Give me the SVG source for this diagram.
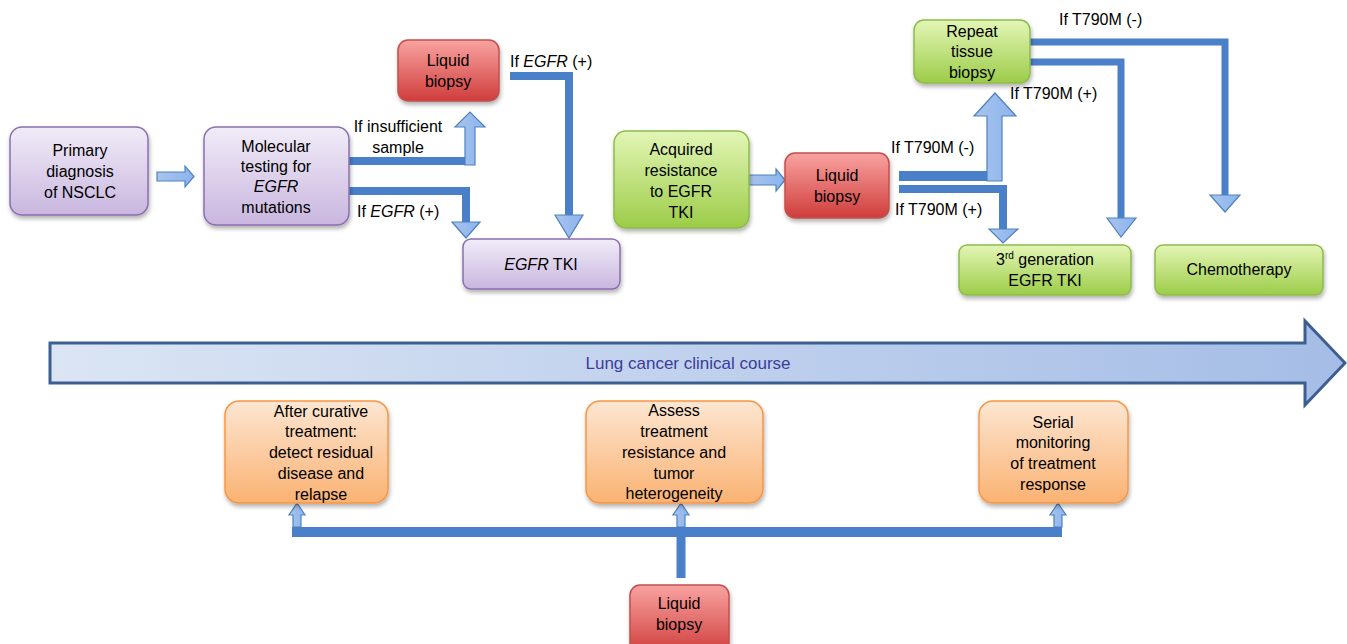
<svg xmlns="http://www.w3.org/2000/svg" width="1347" height="644" viewBox="0 0 1347 644">
<defs>
<linearGradient id="gPurple" x1="0" y1="0" x2="0" y2="1"><stop offset="0" stop-color="#f1ecf8"/><stop offset="1" stop-color="#c9b6df"/></linearGradient>
<linearGradient id="gRed" x1="0" y1="0" x2="0" y2="1"><stop offset="0" stop-color="#f9a3a1"/><stop offset="1" stop-color="#cf3d3b"/></linearGradient>
<linearGradient id="gGreen" x1="0" y1="0" x2="0" y2="1"><stop offset="0" stop-color="#e3f6b6"/><stop offset="1" stop-color="#9ccc48"/></linearGradient>
<linearGradient id="gOrange" x1="0" y1="0" x2="0" y2="1"><stop offset="0" stop-color="#fde6d2"/><stop offset="1" stop-color="#fab272"/></linearGradient>
<linearGradient id="gArrow" x1="0" y1="0" x2="1" y2="0"><stop offset="0" stop-color="#a9c4eb"/><stop offset="1" stop-color="#8ab4f0"/></linearGradient>
<linearGradient id="gBig" x1="0" y1="0" x2="1" y2="0"><stop offset="0" stop-color="#dbe5f4"/><stop offset="1" stop-color="#a5bde6"/></linearGradient>
<filter id="sh" x="-10%" y="-10%" width="130%" height="140%"><feDropShadow dx="1" dy="3" stdDeviation="2" flood-color="#000" flood-opacity="0.3"/></filter>
</defs>
<style>
text{font-family:"Liberation Sans",Arial,sans-serif;font-size:16px;fill:#000;}
.c{text-anchor:middle;}
.i{font-style:italic;}
.purple{fill:url(#gPurple);stroke:#8a6fb0;stroke-width:1.5;filter:url(#sh);}
.red{fill:url(#gRed);stroke:#c0504d;stroke-width:1.5;filter:url(#sh);}
.green{fill:url(#gGreen);stroke:#8fba4c;stroke-width:1.5;filter:url(#sh);}
.orange{fill:url(#gOrange);stroke:#f79646;stroke-width:1.5;filter:url(#sh);}
.line{fill:none;stroke:#4a7fc9;stroke-linejoin:miter;}
.head{fill:url(#gArrow);stroke:#4f81bd;stroke-width:1.2;stroke-linejoin:miter;}
</style>
<rect width="1347" height="644" fill="#fff"/>

<g id="connectors">
<polygon class="head" points="157,172 185,172 185,166 194,176.5 185,187 185,181 157,181"/>
<path class="line" stroke-width="8" d="M349,161 H474"/>
<polygon class="head" points="465,165 465,127 455,127 470,112 485,127 475,127 475,165"/>
<path class="line" stroke-width="8" d="M349,191 H466 V222"/>
<polygon class="head" points="452,222 480,222 466,238"/>
<path class="line" stroke-width="8" d="M510,76 H569 V215"/>
<polygon class="head" points="555,215 583,215 569,238"/>
<polygon class="head" points="749,175 776,175 776,169 785,180 776,191 776,185 749,185"/>
<path class="line" stroke-width="10" d="M899,176 H1000"/>
<polygon class="head" points="987,181 987,116 974,116 995,93 1016,116 1002,116 1002,181"/>
<path class="line" stroke-width="8" d="M899,189 H1003 V229"/>
<polygon class="head" points="989,229 1018,229 1003,243"/>
<path class="line" stroke-width="7" d="M1030,62 H1121 V218"/>
<polygon class="head" points="1107,218 1136,218 1121,237"/>
<path class="line" stroke-width="7" d="M1030,42 H1225 V195"/>
<polygon class="head" points="1210,195 1240,195 1225,212"/>
<path class="line" stroke-width="10" d="M292,532 H1062"/>
<path class="line" stroke-width="9" d="M681,578 V532"/>
<polygon class="head" points="293,527 293,515 289,515 297,503 305,515 301,515 301,527"/>
<polygon class="head" points="677,527 677,515 673,515 681,503 689,515 685,515 685,527"/>
<polygon class="head" points="1054,527 1054,515 1050,515 1058,503 1066,515 1062,515 1062,527"/>
</g>

<g id="labels">
<text x="510" y="67">If <tspan class="i">EGFR</tspan> (+)</text>
<text class="c" x="398" y="132">If insufficient</text>
<text class="c" x="398" y="153">sample</text>
<text x="357" y="217">If <tspan class="i">EGFR</tspan> (+)</text>
<text x="891" y="153">If T790M (-)</text>
<text x="895" y="215">If T790M (+)</text>
<text x="1010" y="99">If T790M (+)</text>
<text x="1059" y="25">If T790M (-)</text>
</g>

<g id="timeline">
<polygon points="50,343 1305,343 1305,321 1345,363 1305,405 1305,383 50,383" fill="url(#gBig)" stroke="#3c5f8f" stroke-width="3"/>
<text class="c" x="688" y="369" style="font-size:17px;fill:#3c3c9c">Lung cancer clinical course</text>
</g>

<g id="n-primary">
<rect class="purple" x="10" y="127" width="138" height="88" rx="12"/>
<text class="c" x="80" y="156">Primary</text>
<text class="c" x="80" y="177">diagnosis</text>
<text class="c" x="80" y="198">of NSCLC</text>
</g>
<g id="n-molecular">
<rect class="purple" x="204" y="127" width="145" height="98" rx="12"/>
<text class="c" x="276" y="152">Molecular</text>
<text class="c" x="276" y="172">testing for</text>
<text class="c i" x="276" y="192">EGFR</text>
<text class="c" x="276" y="213">mutations</text>
</g>
<g id="n-liquid1">
<rect class="red" x="398" y="40" width="101" height="61" rx="10"/>
<text class="c" x="448" y="66">Liquid</text>
<text class="c" x="448" y="87">biopsy</text>
</g>
<g id="n-egfrtki">
<rect class="purple" x="463" y="239" width="157" height="50" rx="8"/>
<text class="c" x="541" y="270"><tspan class="i">EGFR</tspan> TKI</text>
</g>
<g id="n-acquired">
<rect class="green" x="614" y="131" width="135" height="97" rx="12"/>
<text class="c" x="681" y="155">Acquired</text>
<text class="c" x="681" y="176">resistance</text>
<text class="c" x="681" y="197">to EGFR</text>
<text class="c" x="681" y="218">TKI</text>
</g>
<g id="n-liquid2">
<rect class="red" x="785" y="153" width="104" height="65" rx="10"/>
<text class="c" x="837" y="181">Liquid</text>
<text class="c" x="837" y="202">biopsy</text>
</g>
<g id="n-repeat">
<rect class="green" x="914" y="20" width="116" height="63" rx="10"/>
<text class="c" x="972" y="37">Repeat</text>
<text class="c" x="972" y="57">tissue</text>
<text class="c" x="972" y="78">biopsy</text>
</g>
<g id="n-3rdgen">
<rect class="green" x="959" y="245" width="172" height="50" rx="8"/>
<text class="c" x="1045" y="265">3<tspan dy="-6" style="font-size:10px">rd</tspan><tspan dy="6"> generation</tspan></text>
<text class="c" x="1045" y="286">EGFR TKI</text>
</g>
<g id="n-chemo">
<rect class="green" x="1155" y="245" width="168" height="50" rx="8"/>
<text class="c" x="1239" y="275">Chemotherapy</text>
</g>
<g id="n-after">
<rect class="orange" x="225" y="401" width="163" height="102" rx="14"/>
<text class="c" x="321" y="417">After curative</text>
<text class="c" x="321" y="437">treatment:</text>
<text class="c" x="321" y="458">detect residual</text>
<text class="c" x="321" y="479">disease and</text>
<text class="c" x="321" y="500">relapse</text>
</g>
<g id="n-assess">
<rect class="orange" x="586" y="401" width="177" height="102" rx="14"/>
<text class="c" x="674" y="416">Assess</text>
<text class="c" x="674" y="437">treatment</text>
<text class="c" x="674" y="458">resistance and</text>
<text class="c" x="674" y="479">tumor</text>
<text class="c" x="674" y="499">heterogeneity</text>
</g>
<g id="n-serial">
<rect class="orange" x="979" y="401" width="149" height="102" rx="14"/>
<text class="c" x="1053" y="428">Serial</text>
<text class="c" x="1053" y="448">monitoring</text>
<text class="c" x="1053" y="469">of treatment</text>
<text class="c" x="1053" y="490">response</text>
</g>
<g id="n-liquid3">
<rect class="red" x="630" y="585" width="99" height="70" rx="10"/>
<text class="c" x="679" y="609">Liquid</text>
<text class="c" x="679" y="630">biopsy</text>
</g>
</svg>
